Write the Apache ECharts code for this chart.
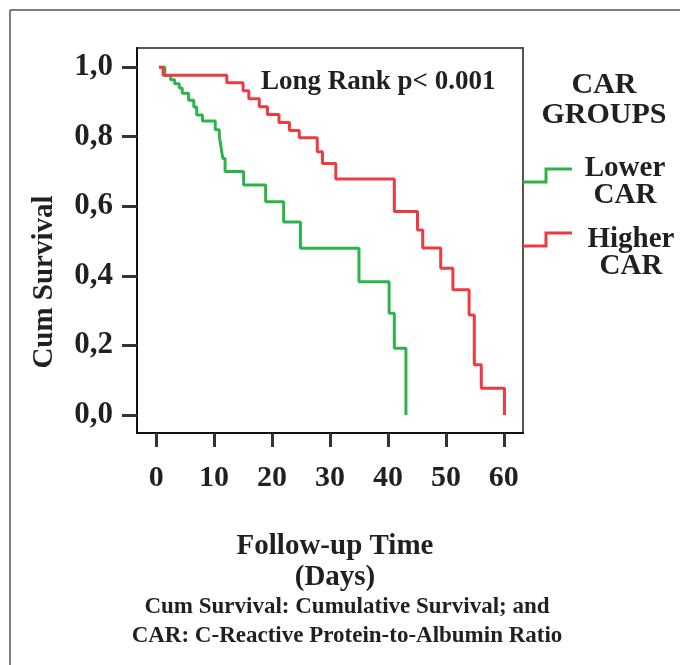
<!DOCTYPE html>
<html>
<head>
<meta charset="utf-8">
<script src="https://cdn.jsdelivr.net/npm/echarts@6/dist/echarts.min.js"></script>
<style>
  html, body { margin: 0; padding: 0; background: #fff; }
  #chart { width: 680px; height: 665px; }
</style>
</head>
<body>
<div id="chart"></div>
<script>
// Kaplan-Meier steps (time in days, cumulative survival)
const lowerCarTime = [0.5, 1.5, 2.5, 3.2, 4.0, 4.5, 5.6, 6.5, 7.0, 8.0, 10.2, 10.9, 11.2, 11.5, 11.9, 15.1, 18.9, 22.0, 24.9, 35.0, 40.2, 41.1, 43.1];
const lowerCarSurv = [1.0, 0.976, 0.964, 0.952, 0.94, 0.925, 0.905, 0.885, 0.862, 0.845, 0.82, 0.80, 0.77, 0.737, 0.70, 0.661, 0.613, 0.555, 0.479, 0.383, 0.292, 0.192, 0.0];

const higherCarTime = [0.5, 1.2, 12.2, 15.0, 16.0, 17.8, 19.2, 21.2, 23.0, 24.7, 27.8, 28.7, 31.0, 41.1, 45.1, 46.0, 49.1, 51.2, 54.0, 54.9, 56.1, 60.1];
const higherCarSurv = [1.0, 0.977, 0.955, 0.932, 0.909, 0.886, 0.864, 0.841, 0.818, 0.797, 0.757, 0.723, 0.678, 0.585, 0.532, 0.48, 0.422, 0.36, 0.287, 0.144, 0.077, 0.0];

const xTicks = [0, 10, 20, 30, 40, 50, 60];
const yTicks = [0, 0.2, 0.4, 0.6, 0.8, 1.0];

const ink = '#231f20';
const serif = '"Liberation Serif", "DejaVu Serif", serif';

const chart = echarts.init(document.getElementById('chart'));

const toPairs = (t, s) => t.map((v, i) => [v, s[i]]);

chart.setOption({
    animation: false,
    backgroundColor: '#fff',
    grid: {
        left: 137, top: 48, width: 386, height: 385,
        show: true, borderColor: '#555', borderWidth: 2
    },
    xAxis: {
        type: 'value',
        min: -3.3, max: 63.3,
        splitLine: { show: false },
        axisLine: { onZero: false, lineStyle: { color: '#111', width: 2 } },
        axisTick: { customValues: xTicks, length: 14, lineStyle: { color: '#333', width: 3 } },
        axisLabel: {
            customValues: xTicks, margin: 30,
            color: ink, fontFamily: serif, fontWeight: 'bold', fontSize: 30
        },
        name: 'Follow-up Time\n(Days)',
        nameLocation: 'middle',
        nameGap: 98,
        nameTextStyle: { color: ink, fontFamily: serif, fontWeight: 'bold', fontSize: 29, lineHeight: 31, padding: [0, 0, 0, 10] }
    },
    yAxis: {
        type: 'value',
        min: -0.052, max: 1.055,
        splitLine: { show: false },
        axisLine: { onZero: false, lineStyle: { color: '#111', width: 2 } },
        axisTick: { customValues: yTicks, length: 15, lineStyle: { color: '#333', width: 3 } },
        axisLabel: {
            customValues: yTicks, margin: 24,
            color: ink, fontFamily: serif, fontWeight: 'bold', fontSize: 31,
            formatter: v => v.toFixed(1).replace('.', ',')
        }
    },
    series: [
        {
            name: 'Lower CAR',
            type: 'line',
            step: 'end',
            showSymbol: false,
            data: toPairs(lowerCarTime, lowerCarSurv),
            lineStyle: { color: '#2cb34a', width: 3 }
        },
        {
            name: 'Higher CAR',
            type: 'line',
            step: 'end',
            showSymbol: false,
            data: toPairs(higherCarTime, higherCarSurv),
            lineStyle: { color: '#ee3a43', width: 3 }
        }
    ],
    graphic: [
        // outer figure frame
        { type: 'line', shape: { x1: 10, y1: 10, x2: 680, y2: 10 }, style: { stroke: '#555', lineWidth: 1.5 } },
        { type: 'line', shape: { x1: 10, y1: 10, x2: 10, y2: 665 }, style: { stroke: '#555', lineWidth: 1.5 } },
        // y axis title
        {
            type: 'text', x: 45, y: 282, rotation: Math.PI / 2,
            style: { text: 'Cum Survival', fill: ink, font: 'bold 29px ' + serif, align: 'center', verticalAlign: 'middle' }
        },
        {
            type: 'text', left: 261, top: 69,
            style: { text: 'Long Rank p< 0.001', fill: ink, font: 'bold 27px ' + serif }
        },
        // legend
        {
            type: 'text', x: 604, y: 100,
            style: { text: 'CAR\nGROUPS', fill: ink, font: 'bold 30px ' + serif, align: 'center', verticalAlign: 'middle', lineHeight: 30 }
        },
        {
            type: 'polyline',
            shape: { points: [[523, 182], [546, 182], [546, 169], [572, 169]] },
            style: { stroke: '#2cb34a', lineWidth: 3, fill: null }
        },
        {
            type: 'text', x: 625, y: 182,
            style: { text: 'Lower\nCAR', fill: ink, font: 'bold 29px ' + serif, align: 'center', verticalAlign: 'middle', lineHeight: 27 }
        },
        {
            type: 'polyline',
            shape: { points: [[523, 246], [546, 246], [546, 233], [572, 233]] },
            style: { stroke: '#ee3a43', lineWidth: 3, fill: null }
        },
        {
            type: 'text', x: 631, y: 253,
            style: { text: 'Higher\nCAR', fill: ink, font: 'bold 29px ' + serif, align: 'center', verticalAlign: 'middle', lineHeight: 27 }
        },
        // caption
        {
            type: 'text', x: 347, y: 622,
            style: {
                text: 'Cum Survival: Cumulative Survival; and\nCAR: C-Reactive Protein-to-Albumin Ratio',
                fill: ink, font: 'bold 23px ' + serif, align: 'center', verticalAlign: 'middle', lineHeight: 29
            }
        }
    ]
});
</script>
</body>
</html>
